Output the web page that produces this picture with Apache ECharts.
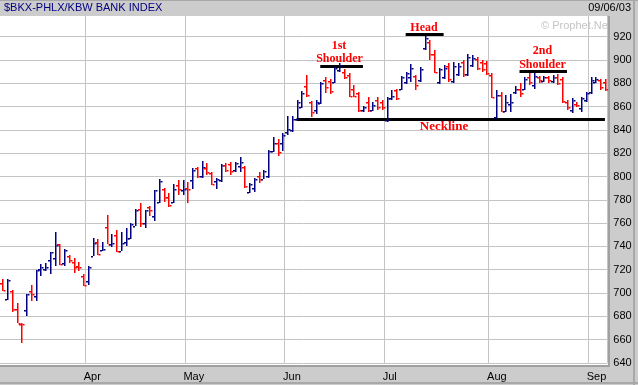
<!DOCTYPE html>
<html><head><meta charset="utf-8">
<script src="https://cdn.jsdelivr.net/npm/echarts@6/dist/echarts.min.js"></script>
<style>html,body{margin:0;padding:0;background:#cccccc}#c{width:638px;height:385px}</style>
</head><body><div id="c"></div>
<script>
// Trading days shown (Mar 6 2003 - Sep 5 2003)
const dates = [
'2003-03-06','2003-03-07','2003-03-10','2003-03-11','2003-03-12','2003-03-13','2003-03-14','2003-03-17','2003-03-18','2003-03-19',
'2003-03-20','2003-03-21','2003-03-24','2003-03-25','2003-03-26','2003-03-27','2003-03-28','2003-03-31',
'2003-04-01','2003-04-02','2003-04-03','2003-04-04','2003-04-07','2003-04-08','2003-04-09','2003-04-10','2003-04-11','2003-04-14',
'2003-04-15','2003-04-16','2003-04-17','2003-04-21','2003-04-22','2003-04-23','2003-04-24','2003-04-25','2003-04-28','2003-04-29','2003-04-30',
'2003-05-01','2003-05-02','2003-05-05','2003-05-06','2003-05-07','2003-05-08','2003-05-09','2003-05-12','2003-05-13','2003-05-14',
'2003-05-15','2003-05-16','2003-05-19','2003-05-20','2003-05-21','2003-05-22','2003-05-23','2003-05-27','2003-05-28','2003-05-29','2003-05-30',
'2003-06-02','2003-06-03','2003-06-04','2003-06-05','2003-06-06','2003-06-09','2003-06-10','2003-06-11','2003-06-12','2003-06-13',
'2003-06-16','2003-06-17','2003-06-18','2003-06-19','2003-06-20','2003-06-23','2003-06-24','2003-06-25','2003-06-26','2003-06-27','2003-06-30',
'2003-07-01','2003-07-02','2003-07-03','2003-07-07','2003-07-08','2003-07-09','2003-07-10','2003-07-11','2003-07-14','2003-07-15',
'2003-07-16','2003-07-17','2003-07-18','2003-07-21','2003-07-22','2003-07-23','2003-07-24','2003-07-25','2003-07-28','2003-07-29','2003-07-30','2003-07-31',
'2003-08-01','2003-08-04','2003-08-05','2003-08-06','2003-08-07','2003-08-08','2003-08-11','2003-08-12','2003-08-13','2003-08-14',
'2003-08-15','2003-08-18','2003-08-19','2003-08-20','2003-08-21','2003-08-22','2003-08-25','2003-08-26','2003-08-27','2003-08-28','2003-08-29',
'2003-09-02','2003-09-03','2003-09-04','2003-09-05'
];
const opens = [
709,695,702,686,673.5,685,701.5,697,721,721, 728,730,742,726,731.5,727,723,715,
710,732,744,736.5,757,742,750,736,744,747, 757.5,772.5,760,774,766,778,789,782.5,778,792.5,788,
790.5,797,807,800.5,807.5,803,796,797,810,811, 805.5,809,808.5,787,790.5,800.5,797.5,800.5,822,829,828.5,
838,840,849,860,877.5,864,857,863.5,883,882, 881.5,891,890,887,875,871.5,857,864,857,865.5,864,
848.5,867,874,875.5,881.5,885.5,886,883,910,915.5, 905.5,881.5,885,895,882,888,898,888,896,901,898,897,
887,851,870,856.5,862.5,872.5,875.5,875.5,885.5,878.5, 885,882,885.5,882,885,884,864,857,862.5,858.5,865.5,
872.5,881.5,882.5,881.5
];
const highs = [
712,712,703,691,674.5,699.5,706.5,719.5,725,726, 735,752.5,742,737.5,733,730,727,716,
723,747,746,744,767,751,754.5,752.5,755.5,760, 772.5,777,771.5,774.5,788.5,797.5,790.5,786,793.5,797,797,
795.5,807,808.5,813,812,804,799,811,812,812.5, 812.5,816.5,809,794,799,804,806,822.5,833.5,832,837,
852,852,866,873.5,887,865,865.5,881,885.5,884, 894,897,892,888.5,878.5,872.5,860.5,868,864,868,866,
868.5,874.5,875.5,886,890,896.5,887,894,921,917, 909,893,896,897,898,897,900,905,904,903,900,899,
888.5,874,872.5,870,871,877.5,880,885.5,888.5,888.5, 886,886,886,887,888,885.5,865.5,867,864,868.5,872.5,
885,885.5,884,883.5
];
const lows = [
702,694,684,674,657,680,693,693,715,719, 716,723,724,723,726,717.5,718.5,706,
707,731.5,733,736,742,739.5,735,736,740.5,746, 757.5,757,756,766,762,777.5,778,774,777.5,784,784.5,
777,789,798.5,799,801,792.5,789,795.5,804,801, 804,804,790.5,786,787,794.5,797.5,799,821,817.5,822,
836,838.5,848.5,858.5,868,851.5,854,862.5,871.5,871, 880,890,884,868.5,868,855.5,855.5,855.5,856.5,857.5,857,
847,866,865.5,874,879.5,881.5,874.5,881.5,909,900, 889,879.5,884,881,880,886,885.5,886,894,891,890,887,
867,849,855.5,855.5,855.5,870.5,868.5,874,878.5,875.5, 880.5,881,880.5,880.5,878.5,863.5,857.5,854.5,859.5,855.5,864,
870.5,880,874,873.5
];
const closes = [
702.5,711,686,674.5,673,699,699.5,719.5,722,722, 735,741,725,737,728,722,722.5,707,
722,743,733.5,737.5,742,743,736,742.5,747,759.5, 771.5,760,771,771,788,796,782.5,775.5,789,789,789.5,
789.5,805.5,800.5,808.5,804,793.5,797.5,810,805.5,805, 812,812.5,791.5,793.5,797.5,797.5,805,822,828.5,821,835.5,
841,849,864,871.5,870,855,864,880,877,873.5, 893,895.5,885.5,869,869,857,859.5,857.5,861.5,859.5,859.5,
867,869,867,885,888.5,893,878.5,892.5,918.5,905.5, 890,892,893,884,895,895,888,903,902,893,892,889,
868,870,856.5,864,864,875.5,871.5,883.5,881.5,886, 882.5,885,882.5,885,880.5,865,859.5,865.5,861.5,867,871.5,
882.5,884,877,875.5
];
// y axis ticks
const yMin = 640, yMax = 940, yStep = 20;
// pattern annotation levels
const necklineLevel = 849;
const headLevel = 922.5;
const shoulder1Level = 895;
const shoulder2Level = 890;

const monthNames = {'04':'Apr','05':'May','06':'Jun','07':'Jul','08':'Aug','09':'Sep'};
const isMonthStart = function(idx){
  if (idx === 0) return false;
  return dates[idx].slice(5,7) !== dates[idx-1].slice(5,7);
};

const ohlc = dates.map(function(d,i){ return [i, opens[i], highs[i], lows[i], closes[i]]; });

const chart = echarts.init(document.getElementById('c'), null, {renderer:'canvas'});
const FONT = '"Liberation Sans", Arial, sans-serif';
const SERIF = 'bold 12px "Liberation Serif", "Times New Roman", serif';
chart.setOption({
  animation:false,
  backgroundColor:'#cccccc',
  grid:{left:-2, right:30.7, top:13.4, bottom:22.1, containLabel:false},
  xAxis:{
    type:'category', data:dates, boundaryGap:true,
    axisLine:{show:false}, axisTick:{show:false},
    splitLine:{show:true, interval:function(i){return isMonthStart(i);}, lineStyle:{color:'#c4c4c4', width:1}},
    axisLabel:{interval:function(i){return isMonthStart(i);}, formatter:function(v){return monthNames[v.slice(5,7)]||'';},
      align:'left', padding:[0,0,0,-4], color:'#000', fontSize:11, fontFamily:FONT, margin:9}
  },
  yAxis:{
    type:'value', position:'right', min:yMin, max:yMax, interval:yStep,
    axisLine:{show:false}, axisTick:{show:false},
    splitLine:{show:true, lineStyle:{color:'#c4c4c4', width:1}},
    axisLabel:{color:'#000', fontSize:11, fontFamily:FONT, margin:6, showMaxLabel:false, align:'left'}
  },
  series:[
    {
      type:'custom', data:ohlc, encode:{x:0, y:[1,2,3,4]}, z:5,
      renderItem:function(params, api){
        var idx=api.value(0), o=api.value(1), h=api.value(2), l=api.value(3), c=api.value(4);
        var ph=api.coord([idx,h]), pl=api.coord([idx,l]), po=api.coord([idx,o]), pc=api.coord([idx,c]);
        var col = c>=o ? '#000080' : '#ff0000';
        var cx = Math.round(ph[0]);
        var yo = Math.round(po[1]), yc = Math.round(pc[1]);
        var yh = Math.round(ph[1]), yl = Math.round(pl[1]);
        return {type:'group', children:[
          {type:'rect', shape:{x:cx, y:yh, width:1.5, height:Math.max(1,yl-yh)}, style:{fill:col}},
          {type:'rect', shape:{x:cx-2, y:yo, width:2, height:1.5}, style:{fill:col}},
          {type:'rect', shape:{x:cx+1.5, y:yc, width:2, height:1.5}, style:{fill:col}}
        ]};
      }
    },
    {
      type:'line', data:[], silent:true,
      markLine:{silent:true, symbol:['none','none'], label:{show:false},
        lineStyle:{color:'#000', width:3, type:'solid'},
        data:[
          [{coord:[dates[62], necklineLevel]},{coord:[dates[127], necklineLevel]}],
          [{coord:[dates[85], headLevel]},{coord:[dates[93], headLevel]}],
          [{coord:[dates[67], shoulder1Level]},{coord:[dates[76], shoulder1Level]}],
          [{coord:[dates[109], shoulder2Level]},{coord:[dates[119], shoulder2Level]}]
        ]}
    }
  ],
  graphic:[
    {type:'rect', z:-100, shape:{x:0,y:16,width:608,height:350}, style:{fill:'#ffffff'}},
    {type:'rect', z:50, shape:{x:0,y:0,width:638,height:16}, style:{fill:'#cccccc'}},
    {type:'rect', z:50, shape:{x:0,y:0,width:638,height:1}, style:{fill:'#a8a8a8'}},
    {type:'rect', z:50, shape:{x:0,y:365,width:610,height:2}, style:{fill:'#a0a0a0'}},
    {type:'rect', z:50, shape:{x:608,y:16,width:2,height:351}, style:{fill:'#a0a0a0'}},
    {type:'rect', z:50, shape:{x:633,y:0,width:2,height:385}, style:{fill:'#a8a8a8'}},
    {type:'rect', z:50, shape:{x:0,y:382,width:638,height:2}, style:{fill:'#a8a8a8'}},
    {type:'text', z:60, x:4, y:8, style:{text:'$BKX-PHLX/KBW BANK INDEX', fill:'#000080', font:'11px '+FONT, align:'left', verticalAlign:'middle'}},
    {type:'text', z:60, x:631, y:8, style:{text:'09/06/03', fill:'#000', font:'11px '+FONT, align:'right', verticalAlign:'middle'}},
    {type:'text', z:1, x:541, y:26, style:{text:'\u00a9 Prophet.Net', fill:'#c4c4c4', font:'11px '+FONT, align:'left', verticalAlign:'middle'}},
    {type:'text', z:60, x:424, y:28, style:{text:'Head', fill:'#ff0000', font:SERIF, align:'center', verticalAlign:'middle'}},
    {type:'text', z:60, x:339, y:46, style:{text:'1st', fill:'#ff0000', font:SERIF, align:'center', verticalAlign:'middle'}},
    {type:'text', z:60, x:339.5, y:59, style:{text:'Shoulder', fill:'#ff0000', font:SERIF, align:'center', verticalAlign:'middle'}},
    {type:'text', z:60, x:542.5, y:51, style:{text:'2nd', fill:'#ff0000', font:SERIF, align:'center', verticalAlign:'middle'}},
    {type:'text', z:60, x:542.5, y:65, style:{text:'Shoulder', fill:'#ff0000', font:SERIF, align:'center', verticalAlign:'middle'}},
    {type:'text', z:60, x:444, y:127, style:{text:'Neckline', fill:'#ff0000', font:'bold 13px "Liberation Serif", "Times New Roman", serif', align:'center', verticalAlign:'middle'}}
  ]
});
</script></body></html>
